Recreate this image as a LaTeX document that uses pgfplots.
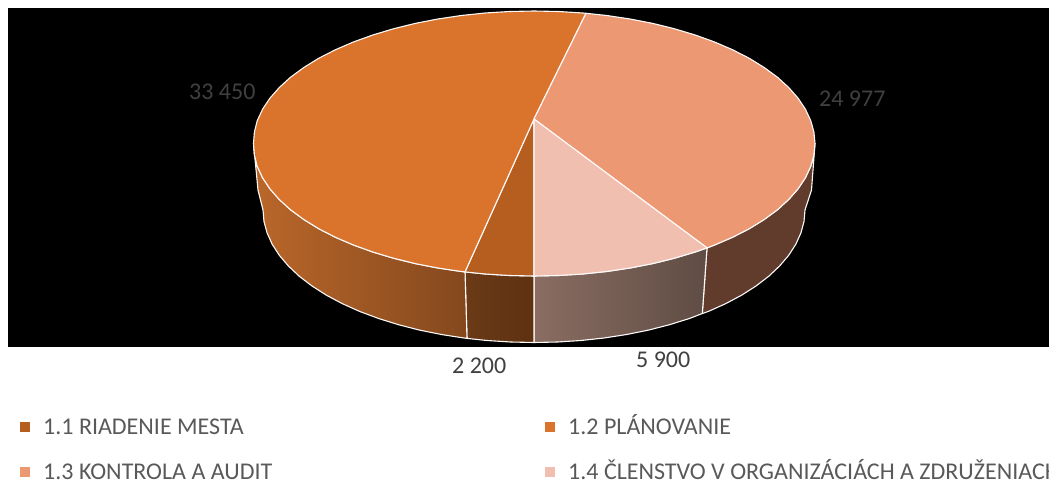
\documentclass[border=0pt]{standalone}
\usepackage{pgfplots}
\pgfplotsset{compat=1.18}
\usepackage{fontspec}
\setmainfont{Carlito}
\definecolor{cA}{HTML}{B55E20}
\definecolor{cB}{HTML}{DA742C}
\definecolor{cC}{HTML}{EC9873}
\definecolor{cD}{HTML}{F1BFB0}
\definecolor{HTMLbrown}{HTML}{613C2D}
\definecolor{sideDa}{HTML}{8A6D63}
\definecolor{sideDb}{HTML}{5F4C44}
\definecolor{sideAa}{HTML}{6B3A17}
\definecolor{sideAb}{HTML}{5E3111}
\definecolor{sideBa}{HTML}{BA672A}
\definecolor{sideBb}{HTML}{84481D}
\definecolor{labelgray}{HTML}{404040}
\definecolor{legendgray}{HTML}{595959}
\begin{document}
\begin{tikzpicture}
\path[use as bounding box,clip] (0,0) rectangle (1049pt,481pt);
\begin{axis}[at={(0,0)},anchor=south west,scale only axis,width=1049pt,height=481pt,
  xmin=0,xmax=1049,ymin=0,ymax=481,y dir=reverse,hide axis,clip=false,
  rim/.style={draw=white!92!cD,line width=1.1pt,line join=round}]
% black plate
\addplot[fill=black,draw=none] coordinates {(8,8)(1049,8)(1049,347)(8,347)} --cycle;
% side of 1.3
\addplot[rim,fill=HTMLbrown] coordinates {(815,143.5)(813.9,155.1)(810.7,166.5)(805.4,177.8)(798.1,188.8)(788.7,199.5)(777.4,209.8)(764.2,219.5)(749.3,228.7)(732.7,237.2)(714.6,245)(707,247.9)
 (702.3,313.5)(708.2,311.5)(725.6,303.7)(741.6,295.2)(756,286)(768.7,276.3)(779.6,266)(788.7,255.3)(795.8,244.3)(800.9,233)(804,221.6)(805,210)(811.5,190)} --cycle;
% side of 1.4
\addplot[rim,left color=sideDa,right color=sideDb] coordinates {(707,247.9)(695.2,252)(674.5,258.2)(652.8,263.6)(630.1,268)(606.7,271.5)(582.8,274)(558.5,275.5)(534,276)
 (534,342.5)(557.6,342)(581,340.5)(604.1,338)(626.7,334.5)(648.5,330.1)(669.5,324.7)(689.4,318.5)(702.3,313.5)} --cycle;
% side of 1.1
\addplot[rim,left color=sideAa,right color=sideAb] coordinates {(534,276)(509.5,275.5)(485.2,274)(465,271.9)
 (467,338.4)(487,340.5)(510.4,342)(534,342.5)} --cycle;
% side of 1.2
\addplot[rim,left color=sideBa,right color=sideBb] coordinates {(465,271.9)(461.3,271.5)(437.9,268)(415.2,263.6)(393.5,258.2)(372.8,252)(353.4,245)(335.3,237.2)(318.7,228.7)(303.8,219.5)(290.6,209.8)(279.3,199.5)(269.9,188.8)(262.6,177.8)(257.3,166.5)(254.4,155.1)(253.5,143.5)
 (258,190)(263,210)(264,221.6)(267.1,233)(272.2,244.3)(279.3,255.3)(288.4,266)(299.3,276.3)(312,286)(326.4,295.2)(342.4,303.7)(359.8,311.5)(378.6,318.5)(398.5,324.7)(419.5,330.1)(441.3,334.5)(463.9,338)(467,338.4)} --cycle;
% top of 1.1
\addplot[rim,fill=cA] coordinates {(534,119)(534,276)(509.5,275.5)(485.2,274)(465,271.9)} --cycle;
% top of 1.2
\addplot[rim,fill=cB] coordinates {(534,119)(465,271.9)(461.3,271.5)(437.9,268)(415.2,263.6)(393.5,258.2)(372.8,252)(353.4,245)(335.3,237.2)(318.7,228.7)(303.8,219.5)(290.6,209.8)(279.3,199.5)(269.9,188.8)(262.6,177.8)(257.3,166.5)(254.4,155.1)(253.5,143.5)(254.4,131.9)(257.3,120.5)(262.6,109.2)(269.9,98.2)(279.3,87.5)(290.6,77.2)(303.8,67.5)(318.7,58.3)(335.3,49.8)(353.4,42)(372.8,35)(393.5,28.8)(415.2,23.4)(437.9,19)(461.3,15.5)(485.2,13)(509.5,11.5)(534,11)(558.5,11.5)(582.8,13)(586,13.3)} --cycle;
% top of 1.3
\addplot[rim,fill=cC] coordinates {(534,119)(586,13.3)(606.7,15.5)(630.1,19)(652.8,23.4)(674.5,28.8)(695.2,35)(714.6,42)(732.7,49.8)(749.3,58.3)(764.2,67.5)(777.4,77.2)(788.7,87.5)(798.1,98.2)(805.4,109.2)(810.7,120.5)(813.9,131.9)(815,143.5)(813.9,155.1)(810.7,166.5)(805.4,177.8)(798.1,188.8)(788.7,199.5)(777.4,209.8)(764.2,219.5)(749.3,228.7)(732.7,237.2)(714.6,245)(707,247.9)} --cycle;
% top of 1.4
\addplot[rim,fill=cD] coordinates {(534,119)(707,247.9)(695.2,252)(674.5,258.2)(652.8,263.6)(630.1,268)(606.7,271.5)(582.8,274)(558.5,275.5)(534,276)} --cycle;
% legend keys
\addplot[only marks,mark=square*,mark size=4.5pt,color=cA] coordinates {(24.5,427)};
\addplot[only marks,mark=square*,mark size=4.5pt,color=cB] coordinates {(550,427)};
\addplot[only marks,mark=square*,mark size=4.5pt,color=cC] coordinates {(24.5,472)};
\addplot[only marks,mark=square*,mark size=4.5pt,color=cD] coordinates {(550,472)};
% data labels
\begin{scope}[every node/.style={anchor=base west,inner sep=0pt,font=\fontsize{24pt}{28pt}\selectfont,text=labelgray}]
\node at (axis cs:189,100) {33 450};
\node at (axis cs:819,107) {24 977};
\node at (axis cs:452,373) {2 200};
\node at (axis cs:636,367) {5 900};
\end{scope}
% legend texts
\begin{scope}[every node/.style={anchor=base west,inner sep=0pt,font=\fontsize{24pt}{28pt}\selectfont,text=legendgray}]
\node at (axis cs:43,434) {1.1 RIADENIE MESTA};
\node at (axis cs:568,434) {1.2 PLÁNOVANIE};
\node at (axis cs:43,479.5) {1.3 KONTROLA A AUDIT};
\node at (axis cs:568,479.5) {1.4 ČLENSTVO V ORGANIZÁCIÁCH A ZDRUŽENIACH};
\end{scope}
\end{axis}
\end{tikzpicture}
\end{document}
